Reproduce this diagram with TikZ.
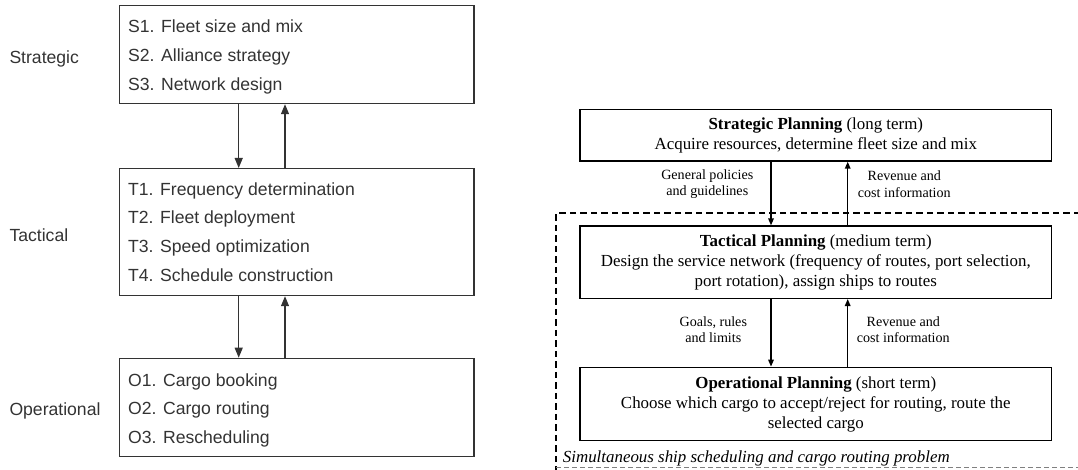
\documentclass[tikz,border=0pt]{standalone}
\usepackage{fontspec}
\setmainfont{Liberation Serif}
\newfontfamily\arialfont{Liberation Sans}
\usetikzlibrary{arrows.meta}
\definecolor{inkgray}{HTML}{333333}
\begin{document}
\begin{tikzpicture}[x=1pt,y=-1pt,
  levelbox/.style={draw=inkgray,line width=1.2pt,anchor=north west,inner sep=0pt,minimum width=354.6pt},
  itemtext/.style={anchor=base west,inner sep=0pt,text=inkgray,font=\arialfont\fontsize{17.6}{20}\selectfont},
  leveltext/.style={anchor=base west,inner sep=0pt,text=inkgray,font=\arialfont\fontsize{17.6}{20}\selectfont},
  flowL/.style={draw=inkgray,line width=1.2pt,-{Triangle[length=10pt,width=8pt]}},
  planbox/.style={draw,line width=1.3pt,minimum width=471.7pt,align=center,inner sep=0pt,
    font=\fontsize{16.9}{20}\selectfont},
  flowR/.style={draw,line width=1.5pt,-{Triangle[length=7pt,width=5.5pt]}},
  flowlabel/.style={align=center,inner sep=0pt,font=\fontsize{14.1}{16.5}\selectfont},
]
\useasboundingbox (0,0) rectangle (1078,470);

% ---- left: planning levels with their problems ----
\node[levelbox,minimum height=98.3pt] (sbox) at (118.7,4.7) {};
\node[levelbox,minimum height=127pt] (tbox) at (118.7,168) {};
\node[levelbox,minimum height=98.3pt] (obox) at (118.7,357.7) {};

\node[leveltext] (lstr) at (9.3,63.3) {Strategic};
\node[leveltext] (ltac) at (9.3,241.3) {Tactical};
\node[leveltext] (lop) at (9.3,415.3) {Operational};

\node[itemtext] (s1) at (128,33) {S1. Fleet size and mix};
\node[itemtext] (s2) at (128,61.7) {S2. Alliance strategy};
\node[itemtext] (s3) at (128,90.3) {S3. Network design};

\node[itemtext] (t1) at (128,195.3) {T1. Frequency determination};
\node[itemtext] (t2) at (128,224) {T2. Fleet deployment};
\node[itemtext] (t3) at (128,252.7) {T3. Speed optimization};
\node[itemtext] (t4) at (128,281.3) {T4. Schedule construction};

\node[itemtext] (o1) at (128,386.3) {O1. Cargo booking};
\node[itemtext] (o2) at (128,414.7) {O2. Cargo routing};
\node[itemtext] (o3) at (128,443.3) {O3. Rescheduling};

\draw[flowL] (sbox.south west -| 238.7,0) -- (tbox.north west -| 238.7,0);
\draw[flowL] (tbox.north west -| 285,0) -- (sbox.south west -| 285,0);
\draw[flowL] (tbox.south west -| 238.7,0) -- (obox.north west -| 238.7,0);
\draw[flowL] (obox.north west -| 285,0) -- (tbox.south west -| 285,0);

% ---- right: hierarchical planning framework ----
\node[planbox,minimum height=51.7pt] (sp) at (815.8,135.2)
  {\textbf{Strategic Planning} (long term)\\Acquire resources, determine fleet size and mix};
\node[planbox,minimum height=72.3pt] (tp) at (815.8,262.2)
  {\textbf{Tactical Planning} (medium term)\\Design the service network (frequency of routes, port selection,\\port rotation), assign ships to routes};
\node[planbox,minimum height=73.4pt] (op) at (815.8,404)
  {\textbf{Operational Planning} (short term)\\Choose which cargo to accept/reject for routing, route the\\selected cargo};

\draw[flowR] (sp.south -| 771,0) -- (tp.north -| 771,0);
\draw[flowR] (tp.north -| 847.7,0) -- (sp.south -| 847.7,0);
\draw[flowR] (tp.south -| 771,0) -- (op.north -| 771,0);
\draw[flowR] (op.north -| 847.7,0) -- (tp.south -| 847.7,0);

\node[flowlabel] (l1) at (707.3,184) {General policies\\and guidelines};
\node[flowlabel] (l2) at (904.3,184) {Revenue and\\cost information};
\node[flowlabel] (l3) at (713.3,329.5) {Goals, rules\\and limits};
\node[flowlabel] (l4) at (903.3,329.5) {Revenue and\\cost information};

% dashed frame of the joint scheduling and routing problem
\coordinate (fr) at (1080,213.3);
\coordinate (fc) at (556,213.3);
\coordinate (fb) at (556,470);
\draw[line width=1.8pt,dash pattern=on 6.5pt off 4pt] (fr) -- (fc) -- (fb);
\coordinate (gl) at (556,467.5);
\coordinate (gr) at (1080,467.5);
\draw[gray,line width=0.8pt,dash pattern=on 5pt off 3pt] (gl) -- (gr);
\node[anchor=base west,inner sep=0pt,font=\itshape\fontsize{16.9}{20}\selectfont] (cap) at (562.7,462)
  {Simultaneous ship scheduling and cargo routing problem};
\end{tikzpicture}
\end{document}
